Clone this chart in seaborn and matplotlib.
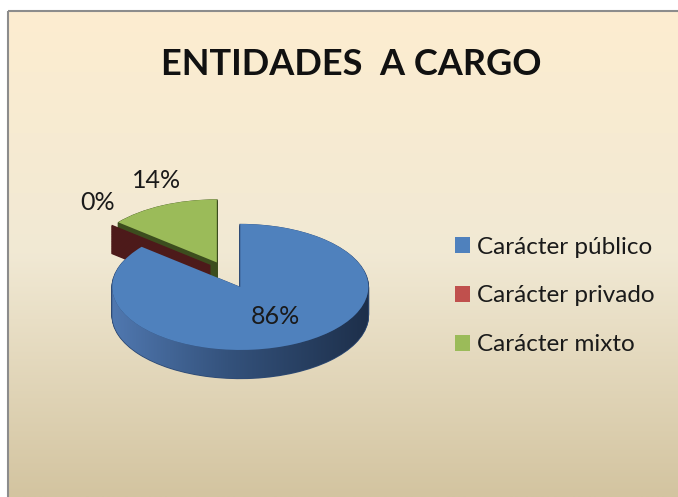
import numpy as np
import matplotlib.pyplot as plt
from matplotlib.patches import Polygon
import seaborn as sns

# ---- data ----
categories = ['Carácter público', 'Carácter privado', 'Carácter mixto']
values = [86, 0, 14]

face_colors = ['#4F81BD', '#C0504D', '#9BBB59']
side_colors = ['#2F4B75', '#4D1A1A', '#3C4D1E']
explode = [0.28, 0.15, 0.15]

sns.set_theme(style='white')
plt.rcParams['font.family'] = ['Lato', 'DejaVu Sans']

W, H = 678, 497
fig = plt.figure(figsize=(W / 100, H / 100), dpi=100)

# background: cream gradient + grey frame, in pixel coords
bg = fig.add_axes([0, 0, 1, 1])
stops = np.array([[253, 237, 208], [241, 233, 212], [211, 196, 160]]) / 255
t = np.linspace(0, 1, 256)
grad = np.stack([np.interp(t, [0, 0.5, 1], stops[:, c]) for c in range(3)], axis=1)
bg.imshow(grad[:, None, :], extent=(8, W, H, 11), aspect='auto', interpolation='bilinear')
bg.plot([8, W], [11, 11], color='#8C8C8C', lw=1.5, solid_capstyle='butt')
bg.plot([8, 8], [11, H], color='#8C8C8C', lw=1.5, solid_capstyle='butt')
bg.set_xlim(0, W)
bg.set_ylim(H, 0)
bg.set_axis_off()

# pie geometry (pixels)
cx, cy = 225, 271
rx, ry = 128, 63
depth = 0.45
left, top, right, bottom = 30, 130, 430, 430
ax = fig.add_axes([left / W, 1 - bottom / H, (right - left) / W, (bottom - top) / H])

# side of the 3d pie: stacked dark layers
# the empty "privado" slice shows only its cut face, which sits in front of the green one
side_z = [1.0, 1.2, 1.1]
n_layers = 40
for k in range(n_layers):
    off = -depth * (1 - k / n_layers)
    side, _ = ax.pie(values, explode=explode, colors=side_colors, startangle=90,
                     counterclock=False, center=(0, off),
                     wedgeprops=dict(linewidth=1.2))
    for w, z in zip(side, side_z):
        w.set_edgecolor(w.get_facecolor())
        w.set_zorder(z)

# shaded front rim of the big slice (follows its explode offset)
mid = np.deg2rad(90 - 180 * values[0] / sum(values))
bx, by = explode[0] * np.cos(mid), explode[0] * np.sin(mid)
theta = np.linspace(np.pi, 2 * np.pi, 200)
upper = np.column_stack([bx + np.cos(theta), by + np.sin(theta)])
lower = np.column_stack([bx + np.cos(theta[::-1]), by + np.sin(theta[::-1]) - depth])
rim = Polygon(np.vstack([upper, lower]), closed=True, facecolor='none', edgecolor='none')
ax.add_patch(rim)
rim_cols = np.array([[80, 120, 176], [52, 82, 124], [29, 47, 74]]) / 255
s = np.linspace(0, 1, 256)
rim_grad = np.stack([np.interp(s, [0, 0.45, 1], rim_cols[:, c]) for c in range(3)], axis=1)
im = ax.imshow(rim_grad[None, :, :],
               extent=(bx - 1.01, bx + 1.01, by - 1 - depth - 0.02, by + 0.01),
               aspect='auto', zorder=1.5, interpolation='bilinear')
im.set_clip_path(rim)

# top face
wedges, _, autotexts = ax.pie(values, explode=explode, colors=face_colors, startangle=90,
                              counterclock=False, autopct=lambda p: f'{p:.0f}%',
                              pctdistance=0.55,
                              wedgeprops=dict(linewidth=0, zorder=2),
                              textprops=dict(fontsize=18, color='#1A1A1A', zorder=3))

# label spots as in the Excel original
label_px = {0: (275, 317), 1: (98, 202), 2: (157, 180)}
for i, (px, py) in label_px.items():
    autotexts[i].set_position(((px - cx) / rx, (cy - py) / ry))

ax.set_aspect('auto')
ax.set_xlim((left - cx) / rx, (right - cx) / rx)
ax.set_ylim((cy - bottom) / ry, (cy - top) / ry)
ax.set_axis_off()

fig.text(351 / W, 1 - 75 / H, 'ENTIDADES  A CARGO', ha='center', va='baseline',
         fontsize=26, fontweight='bold', color='#111111')

fig.legend(wedges, categories, loc='center left', bbox_to_anchor=(455 / W, 1 - 296 / H),
           frameon=False, fontsize=17.5, handlelength=0.62, handleheight=0.62,
           handletextpad=0.3, labelspacing=1.15, borderpad=0, borderaxespad=0,
           labelcolor='#1A1A1A')

fig.savefig('out.png', dpi=100)
